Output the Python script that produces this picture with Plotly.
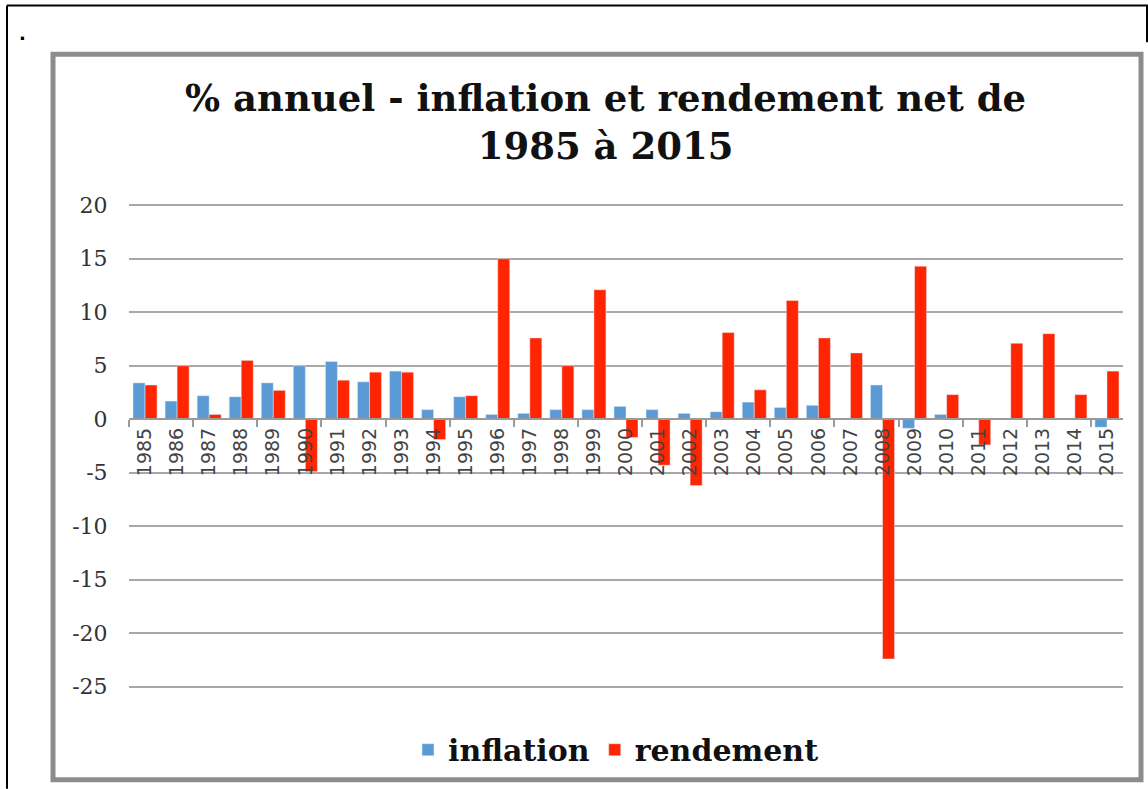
import plotly.graph_objects as go

years = [str(y) for y in range(1985, 2016)]
inflation = [3.4, 1.7, 2.2, 2.1, 3.4, 5.0, 5.4, 3.5, 4.5, 0.9,
             2.1, 0.45, 0.55, 0.9, 0.9, 1.2, 0.9, 0.55, 0.7, 1.6,
             1.1, 1.3, 0.0, 3.2, -0.85, 0.45, 0.1, 0.0, 0.0, 0.1, -0.75]
rendement = [3.2, 5.0, 0.45, 5.5, 2.7, -4.9, 3.65, 4.4, 4.4, -1.9,
             2.2, 15.0, 7.6, 5.0, 12.1, -1.7, -4.3, -6.2, 8.1, 2.75,
             11.1, 7.6, 6.2, -22.4, 14.3, 2.3, -2.4, 7.1, 8.0, 2.3, 4.5]
y_ticks = [20, 15, 10, 5, 0, -5, -10, -15, -20, -25]
y_tick_text = ["20", "15", "10", "5", "0", "-5", "-10", "-15", "-20", "-25"]

W, H = 1148, 789
# pixel rows of the 20 and -25 gridlines, plot left/right edges
Y20, YM25 = 205, 687
L, R = 129, 1123
PAD = 0.3  # axis padding in value units so edge gridlines are drawn
ymin, ymax = -25 - PAD, 20 + PAD
scale = (YM25 - Y20) / 45.0
T = Y20 - PAD * scale
B = YM25 + PAD * scale


def px(x):
    return (x - L) / (R - L)


def py(y):
    return (B - y) / (B - T)


BLUE = "#5B9BD5"
RED = "#FF2500"

fig = go.Figure()
fig.add_trace(go.Bar(x=years, y=inflation, name="<b>inflation</b>", marker_color=BLUE))
fig.add_trace(go.Bar(x=years, y=rendement, name="<b>rendement</b>", marker_color=RED))
# helper trace for the boundary tick axis
fig.add_trace(go.Scatter(x=[0], y=[0], xaxis="x2", mode="markers",
                         marker=dict(opacity=0), showlegend=False, hoverinfo="skip"))

axis_pos = (0 - ymin) / (ymax - ymin)

fig.update_layout(
    width=W, height=H,
    margin=dict(l=L, r=W - R, t=T, b=H - B),
    paper_bgcolor="white", plot_bgcolor="white",
    barmode="group", bargap=0.25, bargroupgap=0.0,
    showlegend=True,
    legend=dict(orientation="h", x=px(616), xanchor="center", y=py(750), yanchor="middle",
                font=dict(family="DejaVu Serif", size=30, color="#111"),
                itemwidth=30, traceorder="normal"),
    xaxis=dict(type="category", anchor="free", position=axis_pos,
               showline=True, linecolor="#9a9a9a", linewidth=2,
               showgrid=False, ticks="", tickangle=-90,
               tickfont=dict(family="DejaVu Sans", size=19, color="#444")),
    xaxis2=dict(overlaying="x", anchor="free", position=axis_pos,
                range=[-0.5, len(years) - 0.5],
                tickmode="array", tickvals=[-0.5 + 2 * k for k in range(16)],
                ticks="outside", ticklen=7, tickwidth=2, tickcolor="#9a9a9a",
                showticklabels=False, showgrid=False, zeroline=False, showline=False),
    yaxis=dict(range=[ymin, ymax], tickmode="array",
               tickvals=y_ticks, ticktext=y_tick_text,
               showgrid=True, gridcolor="#a8a8a8", gridwidth=2,
               zeroline=False, showline=False,
               ticks="outside", ticklen=16, tickcolor="rgba(0,0,0,0)",
               tickfont=dict(family="DejaVu Serif", size=22, color="#333")),
    annotations=[
        dict(text="<b>% annuel - inflation et rendement net de<br>1985 à 2015</b>",
             xref="paper", yref="paper", x=px(605), y=py(122),
             xanchor="center", yanchor="middle", showarrow=False,
             font=dict(family="DejaVu Serif", size=37, color="#111")),
        dict(text="<b>.</b>", xref="paper", yref="paper", x=px(22), y=py(33),
             xanchor="center", yanchor="middle", showarrow=False,
             font=dict(family="DejaVu Sans", size=18, color="#000")),
    ],
    shapes=[
        dict(type="rect", xref="paper", yref="paper",
             x0=px(53), x1=px(1141), y0=py(54), y1=py(780),
             line=dict(color="#8c8c8c", width=5), fillcolor="rgba(0,0,0,0)", layer="above"),
        dict(type="line", xref="paper", yref="paper",
             x0=px(7), x1=px(7), y0=py(5), y1=py(789),
             line=dict(color="#000", width=2)),
        dict(type="line", xref="paper", yref="paper",
             x0=px(7), x1=px(1148), y0=py(5), y1=py(5),
             line=dict(color="#000", width=2)),
        dict(type="line", xref="paper", yref="paper",
             x0=px(1147), x1=px(1147), y0=py(5), y1=py(42),
             line=dict(color="#000", width=2)),
    ],
)

fig.write_html("out.html", config={"displayModeBar": False},
               post_script="document.body.style.margin='0px';document.body.style.padding='0px';")
